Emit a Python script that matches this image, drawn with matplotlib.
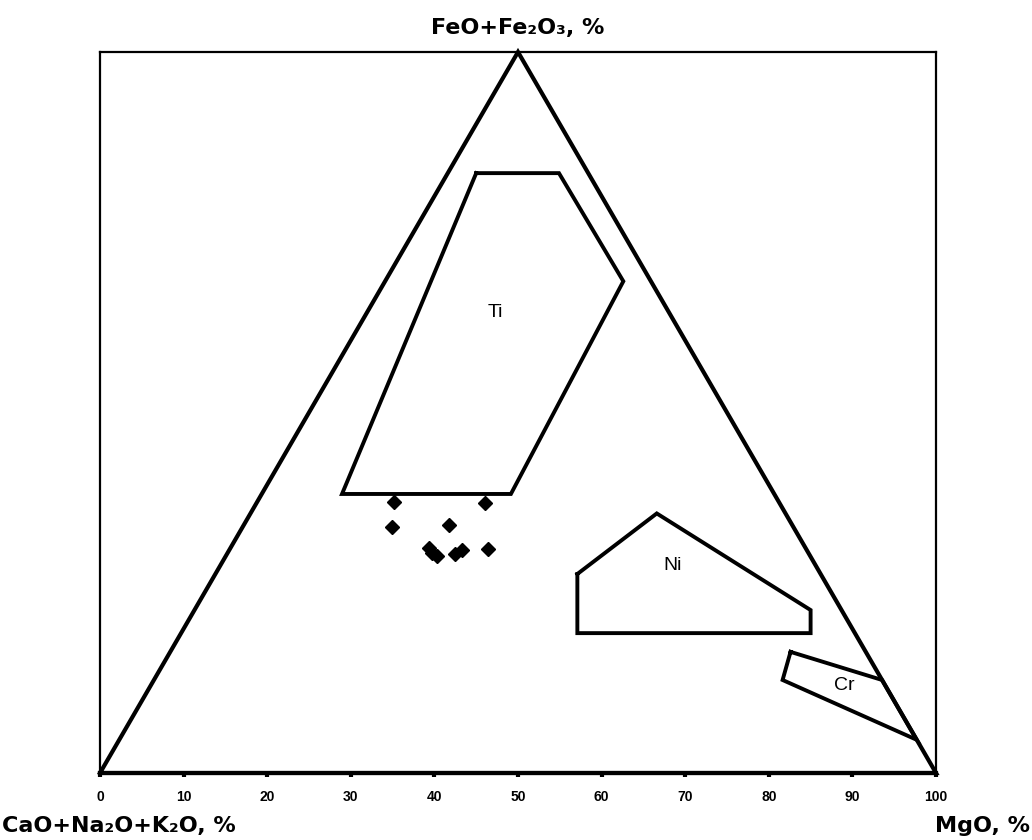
import numpy as np
import matplotlib.pyplot as plt

plt.rcParams['font.family'] = ['Liberation Sans', 'DejaVu Sans']

# ternary values: MgO %, FeO+Fe2O3 % (rest is CaO+Na2O+K2O)
ti_mgo = [3.4, 13.3, 28.5, 29.8, 9.6]
ti_feo = [83.2, 83.2, 68.2, 38.7, 38.7]

ni_mgo = [43.3, 48.6, 73.7, 75.3, 47.4]
ni_feo = [27.6, 36.0, 22.6, 19.4, 19.4]

cr_mgo = [74.2, 75.2, 95.4, 87.1]
cr_feo = [16.8, 12.9, 4.6, 12.9]

pts_mgo = [16.4, 27.3, 17.9, 24.5, 23.7, 24.5, 25.3, 27.3, 27.8, 30.9]
pts_feo = [37.6, 37.4, 34.1, 34.4, 31.2, 30.5, 30.1, 30.4, 30.9, 31.1]

ticks = list(range(0, 101, 10))

H = np.sqrt(3) / 2


def tern(mgo, feo):
    mgo = np.asarray(mgo, float)
    feo = np.asarray(feo, float)
    return mgo + feo / 2, feo * H


fig = plt.figure(figsize=(10.32, 8.4), dpi=100)
ax = fig.add_axes([100 / 1032, 67 / 840, 836 / 1032, 721 / 840])
ax.set_xlim(0, 100)
ax.set_ylim(0, 100 * H)

for s in ax.spines.values():
    s.set_linewidth(1.6)
ax.spines['bottom'].set_linewidth(3)

# main triangle
tx, ty = tern([0, 0, 100, 0], [0, 100, 0, 0])
ax.plot(tx, ty, color='black', lw=3, solid_joinstyle='miter', clip_on=False)

for mg, fe in [(ti_mgo, ti_feo), (ni_mgo, ni_feo), (cr_mgo, cr_feo)]:
    x, y = tern(mg + mg[:1], fe + fe[:1])
    ax.plot(x, y, color='black', lw=2.8, solid_joinstyle='miter')

px, py = tern(pts_mgo, pts_feo)
ax.plot(px, py, 'D', color='black', ms=7, ls='none')

for lab, mg, fe in [('Ti', 15.4, 63.9), ('Ni', 54.1, 28.8), ('Cr', 82.9, 12.2)]:
    x, y = tern([mg], [fe])
    ax.text(x[0], y[0], lab, ha='center', va='center', fontsize=14)

ax.set_yticks([])
ax.set_xticks(ticks)
ax.set_xticklabels([str(t) for t in ticks], fontsize=10, fontweight='bold')
ax.tick_params(axis='x', direction='out', length=3, width=3, pad=9)

lab_font = dict(fontsize=16, fontweight='bold', family='DejaVu Sans')
fig.text(518 / 1032, 1 - 28 / 840, 'FeO+Fe₂O₃, %', ha='center', va='center', **lab_font)
fig.text(2 / 1032, 1 - 826 / 840, 'CaO+Na₂O+K₂O, %', ha='left', va='center', **lab_font)
fig.text(1030 / 1032, 1 - 826 / 840, 'MgO, %', ha='right', va='center', **lab_font)

fig.savefig('out.png', dpi=100)
